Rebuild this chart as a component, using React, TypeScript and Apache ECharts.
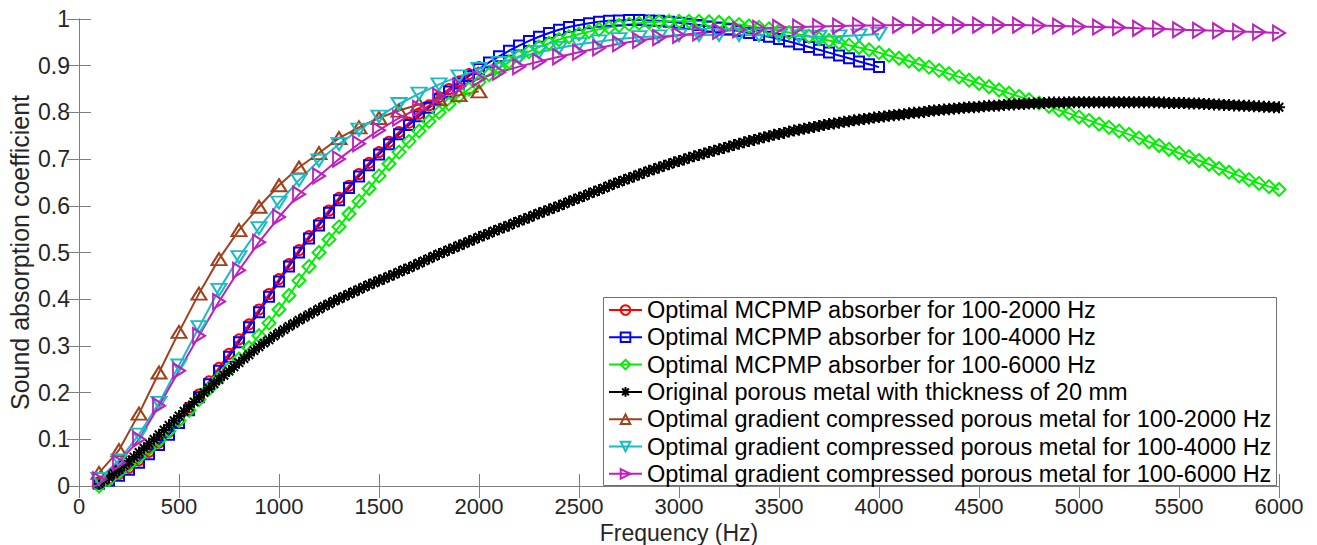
import { useEffect, useRef } from "react";
import * as echarts from "echarts";

// Frequency grids (Hz)
const FREQ_START = 100;
const STEP_FINE = 25;
const STEP_MID = 50;
const STEP_COARSE = 100;

const seriesNames = [
  "Optimal MCPMP absorber for 100-2000 Hz",
  "Optimal MCPMP absorber for 100-4000 Hz",
  "Optimal MCPMP absorber for 100-6000 Hz",
  "Original porous metal with thickness of 20 mm",
  "Optimal gradient compressed porous metal for 100-2000 Hz",
  "Optimal gradient compressed porous metal for 100-4000 Hz",
  "Optimal gradient compressed porous metal for 100-6000 Hz",
];

// MCPMP 100-2000 Hz (50 Hz step)
const mcpmp2000 = [
  0.008, 0.016, 0.026, 0.039, 0.055, 0.073, 0.093, 0.116, 0.141, 0.168,
  0.196, 0.224, 0.253, 0.283, 0.314, 0.346, 0.378, 0.411, 0.443, 0.475,
  0.505, 0.535, 0.563, 0.59, 0.617, 0.643, 0.668, 0.692, 0.715, 0.737,
  0.758, 0.778, 0.797, 0.815, 0.833, 0.85, 0.866, 0.882, 0.897,
];

// MCPMP 100-4000 Hz (50 Hz step)
const mcpmp4000 = [
  0.005, 0.012, 0.022, 0.035, 0.05, 0.068, 0.088, 0.11, 0.135, 0.162,
  0.19, 0.218, 0.247, 0.277, 0.308, 0.34, 0.372, 0.405, 0.438, 0.47,
  0.5, 0.53, 0.558, 0.585, 0.612, 0.638, 0.663, 0.687, 0.71, 0.732,
  0.753, 0.773, 0.792, 0.81, 0.828, 0.845, 0.862, 0.878, 0.893, 0.907,
  0.92, 0.932, 0.943, 0.953, 0.962, 0.97, 0.977, 0.983, 0.987, 0.991,
  0.994, 0.996, 0.997, 0.998, 0.998, 0.997, 0.996, 0.994, 0.992, 0.99,
  0.987, 0.984, 0.981, 0.978, 0.974, 0.97, 0.966, 0.962, 0.957, 0.952,
  0.946, 0.94, 0.934, 0.928, 0.922, 0.916, 0.909, 0.903,
  0.897,
];

// MCPMP 100-6000 Hz (50 Hz step)
const mcpmp6000 = [
  0.0, 0.014, 0.03, 0.046, 0.062, 0.08, 0.098, 0.118, 0.14, 0.162,
  0.185, 0.208, 0.231, 0.251, 0.272, 0.296, 0.322, 0.349, 0.378, 0.408,
  0.44, 0.47, 0.5, 0.528, 0.555, 0.583, 0.61, 0.637, 0.664, 0.69,
  0.715, 0.738, 0.76, 0.781, 0.8, 0.818, 0.835, 0.85, 0.865, 0.881,
  0.895, 0.908, 0.92, 0.93, 0.94, 0.948, 0.956, 0.962, 0.968, 0.973,
  0.978, 0.982, 0.986, 0.989, 0.991, 0.993, 0.994, 0.995, 0.995, 0.995,
  0.995, 0.994, 0.993, 0.991, 0.988, 0.985, 0.982, 0.979, 0.975, 0.971,
  0.967, 0.963, 0.958, 0.954, 0.949, 0.944, 0.939, 0.934, 0.928, 0.922,
  0.916, 0.91, 0.903, 0.897, 0.89, 0.883, 0.876, 0.869, 0.862, 0.855,
  0.848, 0.841, 0.834, 0.827, 0.82, 0.813, 0.805, 0.798, 0.79, 0.783,
  0.775, 0.768, 0.76, 0.753, 0.745, 0.737, 0.729, 0.721, 0.713, 0.705,
  0.697, 0.689, 0.68, 0.672, 0.664, 0.656, 0.648, 0.641,
  0.635,
];

// Original porous metal, 20 mm (25 Hz step)
const originalMetal = [
  0.005, 0.012, 0.019, 0.027,
  0.035, 0.044, 0.053, 0.062,
  0.072, 0.081, 0.091, 0.1,
  0.11, 0.12, 0.13, 0.14,
  0.15, 0.16, 0.17, 0.18,
  0.19, 0.2, 0.209, 0.219,
  0.228, 0.237, 0.246, 0.255,
  0.264, 0.273, 0.281, 0.29,
  0.298, 0.306, 0.313, 0.321,
  0.328, 0.335, 0.342, 0.348,
  0.355, 0.361, 0.367, 0.373,
  0.379, 0.385, 0.39, 0.396,
  0.401, 0.406, 0.411, 0.416,
  0.421, 0.426, 0.431, 0.435,
  0.44, 0.444, 0.449, 0.453,
  0.458, 0.463, 0.467, 0.472,
  0.477, 0.482, 0.487, 0.492,
  0.497, 0.501, 0.506, 0.51,
  0.515, 0.519, 0.524, 0.528,
  0.533, 0.537, 0.541, 0.546,
  0.55, 0.554, 0.558, 0.563,
  0.567, 0.571, 0.575, 0.58,
  0.584, 0.588, 0.592, 0.596,
  0.6, 0.604, 0.609, 0.613,
  0.617, 0.621, 0.626, 0.63,
  0.634, 0.638, 0.643, 0.647,
  0.651, 0.655, 0.659, 0.663,
  0.667, 0.671, 0.675, 0.678,
  0.682, 0.686, 0.689, 0.693,
  0.696, 0.699, 0.703, 0.706,
  0.709, 0.712, 0.715, 0.718,
  0.721, 0.724, 0.727, 0.73,
  0.733, 0.736, 0.739, 0.741,
  0.744, 0.747, 0.749, 0.752,
  0.754, 0.756, 0.759, 0.761,
  0.763, 0.765, 0.767, 0.769,
  0.771, 0.773, 0.775, 0.776,
  0.778, 0.78, 0.781, 0.783,
  0.784, 0.786, 0.787, 0.789,
  0.79, 0.791, 0.793, 0.794,
  0.795, 0.796, 0.798, 0.799,
  0.8, 0.801, 0.803, 0.804,
  0.805, 0.806, 0.807, 0.808,
  0.809, 0.81, 0.811, 0.811,
  0.812, 0.813, 0.814, 0.814,
  0.815, 0.816, 0.817, 0.817,
  0.818, 0.818, 0.819, 0.819,
  0.82, 0.82, 0.821, 0.821,
  0.821, 0.821, 0.822, 0.822,
  0.822, 0.822, 0.822, 0.822,
  0.822, 0.822, 0.822, 0.822,
  0.822, 0.822, 0.822, 0.822,
  0.822, 0.822, 0.822, 0.822,
  0.821, 0.821, 0.82, 0.82,
  0.82, 0.82, 0.819, 0.819,
  0.819, 0.818, 0.818, 0.817,
  0.817, 0.816, 0.816, 0.815,
  0.815, 0.814, 0.814, 0.813,
  0.813, 0.812, 0.812, 0.811,
  0.811,
];

// Gradient compressed porous metal (100 Hz step)
const gradient2000 = [
  0.028, 0.077, 0.155, 0.243, 0.33, 0.412, 0.486, 0.548, 0.598, 0.644,
  0.682, 0.713, 0.745, 0.768, 0.788, 0.804, 0.817, 0.828, 0.837, 0.845,
];

const gradient4000 = [
  0.015, 0.055, 0.11, 0.178, 0.258, 0.34, 0.42, 0.49, 0.552, 0.607,
  0.655, 0.697, 0.732, 0.763, 0.791, 0.818, 0.84, 0.86, 0.877, 0.893,
  0.906, 0.918, 0.929, 0.938, 0.946, 0.952, 0.957, 0.961, 0.963, 0.965,
  0.966, 0.966, 0.966, 0.965, 0.964, 0.963, 0.962, 0.963, 0.965, 0.968,
];

const gradient6000 = [
  0.013, 0.05, 0.1, 0.172, 0.247, 0.322, 0.395, 0.462, 0.522, 0.576,
  0.625, 0.664, 0.7, 0.733, 0.762, 0.788, 0.809, 0.835, 0.856, 0.872,
  0.886, 0.898, 0.909, 0.919, 0.929, 0.938, 0.947, 0.954, 0.96, 0.965,
  0.97, 0.974, 0.977, 0.98, 0.982, 0.983, 0.984, 0.985, 0.986, 0.986,
  0.987, 0.987, 0.987, 0.987, 0.987, 0.987, 0.987, 0.986, 0.985, 0.984,
  0.983, 0.982, 0.98, 0.979, 0.977, 0.976, 0.975, 0.973, 0.972, 0.97,
];

const ASTERISK =
  "path://M5,0 L5,10 M0,5 L10,5 M1.5,1.5 L8.5,8.5 M1.5,8.5 L8.5,1.5";

const FONT = "'Liberation Sans', Arial, Helvetica, sans-serif";
const AXIS_GRAY = "#7f7f7f";
const LABEL_COLOR = "#262626";

function pairs(values: number[], step: number) {
  return values.map((v, i) => [FREQ_START + step * i, v]);
}

function makeSeries(
  name: string,
  data: number[][],
  color: string,
  symbol: string,
  size: number | number[],
  rotate = 0
) {
  return {
    name,
    type: "line",
    data,
    symbol,
    symbolSize: size,
    symbolRotate: rotate,
    showAllSymbol: true,
    clip: false,
    lineStyle: { color, width: 2 },
    itemStyle: { color: "rgba(255,255,255,0)", borderColor: color, borderWidth: 2 },
    emphasis: { disabled: true },
  };
}

export default function App() {
  const ref = useRef<HTMLDivElement>(null);

  useEffect(() => {
    if (!ref.current) return;
    const chart = echarts.init(ref.current, null, { renderer: "svg" });

    const axisCommon = {
      type: "value",
      axisLine: { show: true, lineStyle: { color: AXIS_GRAY, width: 1 } },
      axisTick: { show: true, inside: true, length: 12, lineStyle: { color: AXIS_GRAY } },
      splitLine: { show: false },
    };

    chart.setOption({
      animation: false,
      backgroundColor: "#ffffff",
      textStyle: { fontFamily: FONT },
      grid: {
        left: 79,
        right: 38,
        top: 19,
        bottom: 59,
        containLabel: false,
        outerBoundsMode: "none",
      },
      xAxis: [
        {
          ...axisCommon,
          position: "bottom",
          min: 0,
          max: 6000,
          interval: 500,
          name: "Frequency (Hz)",
          nameLocation: "middle",
          nameGap: 35,
          nameMoveOverlap: false,
          nameTextStyle: { fontSize: 23, color: LABEL_COLOR, fontFamily: FONT },
          axisLabel: {
            fontSize: 22,
            color: LABEL_COLOR,
            margin: 9,
            fontFamily: FONT,
            showMinLabel: true,
            showMaxLabel: true,
            formatter: (v: number) => String(v),
          },
        },
        {
          ...axisCommon,
          position: "top",
          min: 0,
          max: 6000,
          interval: 500,
          axisLabel: { show: false },
        },
      ],
      yAxis: [
        {
          ...axisCommon,
          position: "left",
          min: 0,
          max: 1,
          interval: 0.1,
          name: "Sound absorption coefficient",
          nameLocation: "middle",
          nameGap: 47,
          nameMoveOverlap: false,
          nameTextStyle: { fontSize: 25, color: LABEL_COLOR, fontFamily: FONT },
          axisLabel: {
            fontSize: 23,
            color: LABEL_COLOR,
            margin: 9,
            fontFamily: FONT,
            showMinLabel: true,
            showMaxLabel: true,
          },
        },
        {
          ...axisCommon,
          position: "right",
          min: 0,
          max: 1,
          interval: 0.1,
          axisLabel: { show: false },
        },
      ],
      legend: {
        orient: "vertical",
        left: 608,
        top: 298,
        padding: 0,
        itemWidth: 33,
        itemHeight: 12,
        itemGap: 3.3,
        selectedMode: false,
        textStyle: { fontSize: 23.5, color: "#000", fontFamily: FONT },
        data: seriesNames,
      },
      graphic: [
        {
          type: "rect",
          z: 3,
          shape: { x: 603.5, y: 297.5, width: 673, height: 188 },
          style: { fill: "#ffffff", stroke: "#6f6f6f", lineWidth: 1 },
          silent: true,
        },
      ],
      series: [
        makeSeries(seriesNames[0], pairs(mcpmp2000, STEP_MID), "#ff0000", "circle", 10),
        makeSeries(seriesNames[1], pairs(mcpmp4000, STEP_MID), "#0000ff", "rect", 10),
        makeSeries(seriesNames[2], pairs(mcpmp6000, STEP_MID), "#00f000", "diamond", 13),
        makeSeries(seriesNames[3], pairs(originalMetal, STEP_FINE), "#000000", ASTERISK, 12),
        makeSeries(seriesNames[4], pairs(gradient2000, STEP_COARSE), "#a0401c", "triangle", [15, 12]),
        makeSeries(seriesNames[5], pairs(gradient4000, STEP_COARSE), "#19bcc4", "triangle", [15, 12], 180),
        makeSeries(seriesNames[6], pairs(gradient6000, STEP_COARSE), "#bf1fbf", "triangle", [15, 12], -90),
      ],
    });

    return () => chart.dispose();
  }, []);

  return (
    <div
      ref={ref}
      style={{ position: "fixed", left: 0, top: 0, width: 1317, height: 545, background: "#fff" }}
    />
  );
}
